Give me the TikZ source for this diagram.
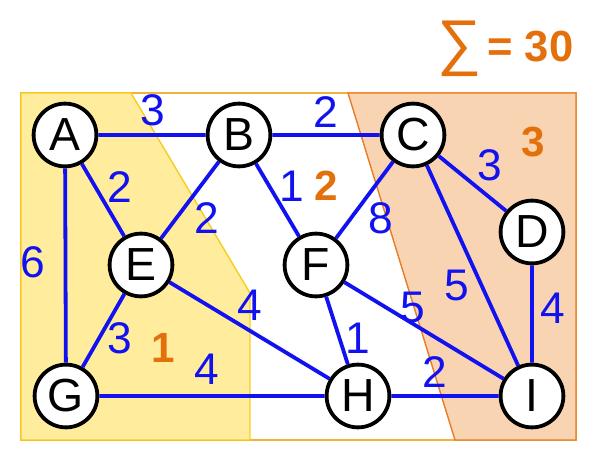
\documentclass[tikz,border=0pt]{standalone}
\usepackage{fontspec}
\setmainfont{Liberation Sans}
\definecolor{Bl}{RGB}{18, 18, 240}
\definecolor{Or}{RGB}{228, 112, 12}
\definecolor{Ye}{RGB}{255, 236, 156}
\definecolor{YeL}{RGB}{246, 206, 30}
\definecolor{Pe}{RGB}{248, 212, 178}
\definecolor{OrL}{RGB}{232, 124, 40}
\definecolor{Mid}{RGB}{240, 180, 60}

\begin{document}
\begin{tikzpicture}[x=0.025cm, y=-0.025cm,
  vertex/.style={circle, draw=black, line width=2.7pt, fill=white, inner sep=0pt,
    minimum size=1.57cm, font=\fontsize{33}{33}\selectfont},
  wt/.style={text=Bl, inner sep=0pt, font=\fontsize{31.5}{31.5}\selectfont},
  part/.style={text=Or, inner sep=0pt, font=\fontsize{30}{30}\selectfont\bfseries},
  link/.style={draw=Bl, line width=2.7pt}]
  \useasboundingbox (0,0) rectangle (608,458);
  % the three parts
  \draw[Mid, line width=1pt] (21,93) rectangle (576,440);
  \filldraw[fill=Ye, draw=YeL, line width=1pt] (21,93) -- (131,93) -- (250,293) -- (250,440) -- (21,440) -- cycle;
  \filldraw[fill=Pe, draw=OrL, line width=1pt] (348,93) -- (576,93) -- (576,440) -- (455,440) -- cycle;
  % vertices
  \node[vertex] (A) at (65,135) {A};
  \node[vertex] (B) at (239,135) {B};
  \node[vertex] (C) at (413,135) {C};
  \node[vertex] (D) at (532,232) {D};
  \node[vertex] (E) at (141,265) {E};
  \node[vertex] (F) at (316,265) {F};
  \node[vertex] (G) at (66,396) {G};
  \node[vertex] (H) at (358,396) {H};
  \node[vertex] (I) at (532,396) {I};
  % edges
  \path[link] (A) -- (B) (B) -- (C) (A) -- (E) (A) -- (G) (B) -- (E) (B) -- (F)
    (C) -- (F) (C) -- (D) (C) -- (I) (D) -- (I) (E) -- (G) (E) -- (H)
    (G) -- (H) (F) -- (H) (F) -- (I) (H) -- (I);
  % weights
  \node[wt] (wAB) at (153,110) {3};
  \node[wt] (wBC) at (326,112) {2};
  \node[wt] (wAE) at (120,187) {2};
  \node[wt] (wBE) at (207,218) {2};
  \node[wt] (wBF) at (292,186) {1};
  \node[wt] (wCF) at (381,218) {8};
  \node[wt] (wCD) at (490,165) {3};
  \node[wt] (wAG) at (33,262) {6};
  \node[wt] (wEG) at (120,338) {3};
  \node[wt] (wGH) at (207,369) {4};
  \node[wt] (wEH) at (250,305) {4};
  \node[wt] (wFH) at (358,338) {1};
  \node[wt] (wFI) at (413,307) {5};
  \node[wt] (wCI) at (457,285) {5};
  \node[wt] (wDI) at (553,308) {4};
  \node[wt] (wHI) at (435,372) {2};
  % part numbers
  \node[part] (p1) at (163,348) {1};
  \node[part] (p2) at (326,186) {2};
  \node[part] (p3) at (533,142) {3};
  % total
  \node[text=Or, inner sep=0pt, font=\fontsize{44}{44}\selectfont] (sig) at (460,49) {∑};
  \node[text=Or, inner sep=0pt, anchor=west, font=\fontsize{31}{31}\selectfont\bfseries] (tot) at (487,47) {= 30};
\end{tikzpicture}
\end{document}
